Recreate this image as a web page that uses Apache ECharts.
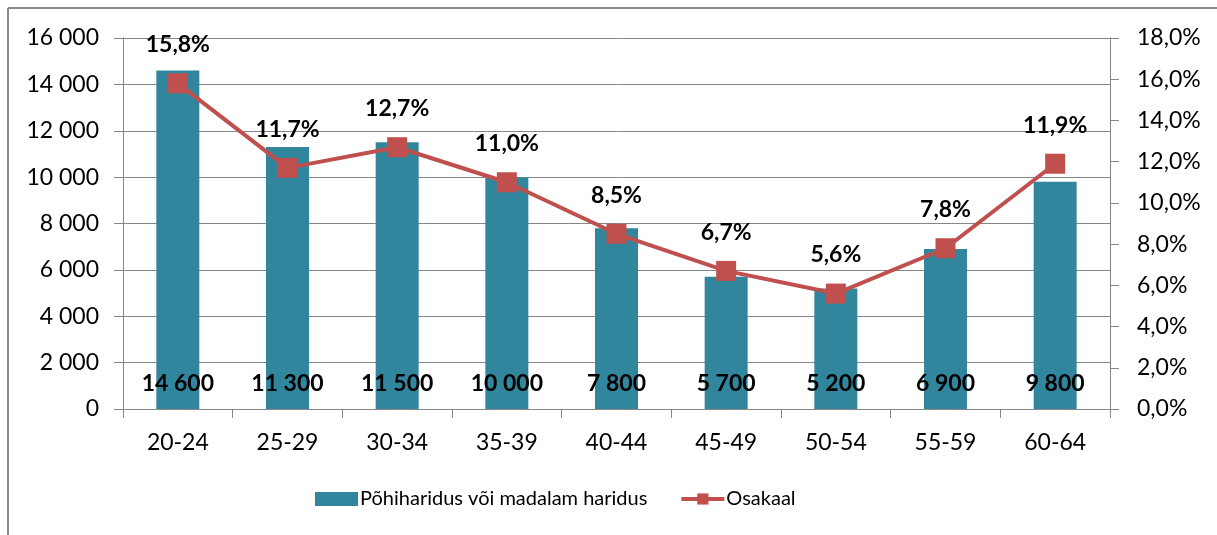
<!DOCTYPE html>
<html><head><meta charset="utf-8">
<script src="https://cdn.jsdelivr.net/npm/echarts@6/dist/echarts.min.js"></script>
<style>html,body{margin:0;padding:0;background:#fff}#c{width:1217px;height:535px}</style>
</head><body><div id="c"></div>
<script>
const categories = ['20-24','25-29','30-34','35-39','40-44','45-49','50-54','55-59','60-64'];
const countValues = [14600, 11300, 11500, 10000, 7800, 5700, 5200, 6900, 9800];
const shareValues = [15.8, 11.7, 12.7, 11.0, 8.5, 6.7, 5.6, 7.8, 11.9];
const barName = 'Põhiharidus või madalam haridus';
const lineName = 'Osakaal';

const FONT = 'Lato';
function thousands(v){ return String(v).replace(/\B(?=(\d{3})+(?!\d))/g, ' '); }
function pct(v){ return v.toFixed(1).replace('.', ',') + '%'; }

const chart = echarts.init(document.getElementById('c'), null, {renderer:'canvas'});
chart.setOption({
  animation:false,
  backgroundColor:'#fff',
  textStyle:{fontFamily:FONT},
  graphic:[
    {type:'line', shape:{x1:8,y1:8,x2:1217,y2:8}, style:{stroke:'#8a8a8a', lineWidth:2}},
    {type:'line', shape:{x1:8,y1:8,x2:8,y2:535}, style:{stroke:'#8a8a8a', lineWidth:2}}
  ],
  grid:{left:123, right:107, top:38, bottom:126, containLabel:false},
  legend:{
    bottom:21, left:310, itemGap:32,
    textStyle:{fontFamily:FONT, fontSize:20, color:'#000', padding:[0,0,0,-3]},
    data:[
      {name:barName, icon:'rect', itemStyle:{color:'#31859C'}},
      {name:lineName, lineStyle:{width:4, color:'#C0504D'}}
    ],
    itemWidth:43, itemHeight:14
  },
  xAxis:{
    type:'category', data:categories,
    axisLine:{lineStyle:{color:'#868686', width:1}},
    axisTick:{show:true, length:9, lineStyle:{color:'#868686'}},
    axisLabel:{color:'#000', fontSize:23, fontFamily:FONT, margin:22}
  },
  yAxis:[
    {type:'value', min:0, max:16000, interval:2000, position:'left',
     axisLine:{show:true, lineStyle:{color:'#868686'}},
     axisTick:{show:true, length:9, lineStyle:{color:'#868686'}},
     splitLine:{show:true, lineStyle:{color:'#868686', width:1}},
     axisLabel:{color:'#000', fontSize:23, fontFamily:FONT, margin:24, formatter:thousands}},
    {type:'value', min:0, max:18, interval:2, position:'right',
     axisLine:{show:true, lineStyle:{color:'#868686'}},
     axisTick:{show:true, length:9, inside:false, lineStyle:{color:'#868686'}},
     splitLine:{show:false},
     axisLabel:{color:'#000', fontSize:23, fontFamily:FONT, margin:27, formatter:v=>pct(v)}}
  ],
  series:[
    {name:barName, type:'bar', data:countValues, yAxisIndex:0, barWidth:43,
     itemStyle:{color:'#31859C'},
     label:{show:true, position:'insideBottom', distance:14, color:'#000', fontWeight:'bold', fontSize:23, fontFamily:FONT, formatter:p=>thousands(p.value)}},
    {name:lineName, type:'line', data:shareValues, yAxisIndex:1,
     symbol:'rect', symbolSize:20,
     lineStyle:{color:'#C0504D', width:4},
     itemStyle:{color:'#C0504D'},
     label:{show:true, position:'top', distance:17, color:'#000', fontWeight:'bold', fontSize:23, fontFamily:FONT, formatter:p=>pct(p.value)}}
  ]
});
</script></body></html>
